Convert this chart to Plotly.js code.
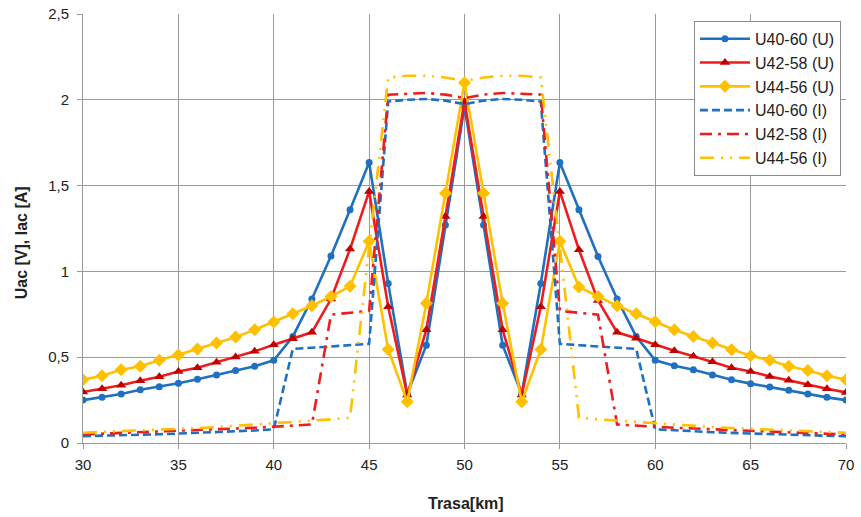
<!DOCTYPE html>
<html>
<head>
<meta charset="utf-8">
<script src="https://cdn.plot.ly/plotly-3.0.1.min.js"></script>
<style>html,body{margin:0;padding:0;background:#fff;}#chart{width:861px;height:517px;}</style>
</head>
<body>
<div id="chart"></div>
<script>
// Trasa [km]
const km = [30,31,32,33,34,35,36,37,38,39,40,41,42,43,44,45,46,47,48,49,50,51,52,53,54,55,56,57,58,59,60,61,62,63,64,65,66,67,68,69,70];

// Napięcia (U)
const u4060U = [0.25,0.266,0.285,0.31,0.328,0.348,0.371,0.396,0.423,0.447,0.482,0.621,0.839,1.09,1.359,1.635,0.93,0.285,0.57,1.27,1.96,1.27,0.57,0.285,0.93,1.635,1.359,1.087,0.839,0.621,0.482,0.45,0.427,0.396,0.369,0.346,0.326,0.307,0.285,0.266,0.25];
const u4258U = [0.297,0.316,0.336,0.363,0.386,0.417,0.439,0.47,0.501,0.534,0.573,0.608,0.645,0.839,1.13,1.466,0.794,0.28,0.66,1.32,1.99,1.32,0.66,0.28,0.794,1.466,1.126,0.831,0.645,0.61,0.573,0.538,0.505,0.474,0.439,0.417,0.388,0.365,0.34,0.316,0.295];
const u4456U = [0.369,0.392,0.427,0.447,0.482,0.513,0.548,0.583,0.617,0.66,0.705,0.753,0.8,0.854,0.913,1.175,0.545,0.24,0.815,1.456,2.1,1.456,0.815,0.24,0.545,1.175,0.909,0.854,0.8,0.753,0.707,0.66,0.621,0.583,0.544,0.509,0.482,0.447,0.423,0.392,0.369];

// Prądy (I)
const u4060I = [0.04,0.042,0.045,0.048,0.051,0.055,0.059,0.063,0.068,0.073,0.08,0.548,0.555,0.562,0.57,0.578,1.99,2.0,2.005,1.995,1.975,1.995,2.005,2.0,1.99,0.578,0.57,0.562,0.555,0.548,0.08,0.073,0.068,0.063,0.059,0.055,0.051,0.048,0.045,0.042,0.04];
const u4258I = [0.05,0.054,0.058,0.062,0.066,0.07,0.074,0.079,0.084,0.089,0.095,0.1,0.108,0.748,0.757,0.77,2.03,2.035,2.04,2.03,2.01,2.03,2.04,2.035,2.03,0.77,0.757,0.748,0.108,0.1,0.095,0.089,0.084,0.079,0.074,0.07,0.066,0.062,0.058,0.054,0.05];
const u4456I = [0.06,0.064,0.068,0.072,0.077,0.082,0.087,0.093,0.1,0.107,0.114,0.122,0.13,0.138,0.147,1.14,2.13,2.14,2.14,2.13,2.11,2.13,2.14,2.14,2.13,1.14,0.147,0.138,0.13,0.122,0.114,0.107,0.1,0.093,0.087,0.082,0.077,0.072,0.068,0.064,0.06];

const names = ['U40-60 (U)','U42-58 (U)','U44-56 (U)','U40-60 (I)','U42-58 (I)','U44-56 (I)'];
const xTitle = 'Trasa[km]';
const yTitle = 'Uac [V], Iac [A]';

const BLUE = '#1f70c1', RED = '#ee1c1c', YEL = '#ffc000';

const traces = [
  {x: km, y: u4060U, name: names[0], mode: 'lines+markers',
   line: {color: BLUE, width: 2.6}, marker: {symbol: 'circle', size: 7, color: BLUE}},
  {x: km, y: u4258U, name: names[1], mode: 'lines+markers',
   line: {color: RED, width: 2.6}, marker: {symbol: 'triangle-up', size: 9, color: '#c00000'}},
  {x: km, y: u4456U, name: names[2], mode: 'lines+markers',
   line: {color: YEL, width: 2.6}, marker: {symbol: 'diamond', size: 10, color: YEL}},
  {x: km, y: u4060I, name: names[3], mode: 'lines',
   line: {color: BLUE, width: 2.6, dash: '8px,4px'}},
  {x: km, y: u4258I, name: names[4], mode: 'lines',
   line: {color: RED, width: 2.6, dash: '12px,6px,3px,6px'}},
  {x: km, y: u4456I, name: names[5], mode: 'lines',
   line: {color: YEL, width: 2.6, dash: '14px,7px,2px,7px,2px,7px'}}
];

const FONT = 'Liberation Sans, Arial, sans-serif';

const layout = {
  width: 861, height: 517,
  margin: {l: 83, r: 15, t: 14, b: 74},
  paper_bgcolor: '#fff', plot_bgcolor: '#fff',
  separators: ', ',
  font: {family: FONT, size: 15, color: '#222'},
  showlegend: true,
  xaxis: {
    range: [30, 70], dtick: 5, tick0: 30,
    showgrid: true, gridcolor: '#9a9a9a', gridwidth: 1,
    zeroline: false, showline: true, linecolor: '#9a9a9a', linewidth: 1,
    ticks: 'outside', ticklen: 5, tickcolor: '#9a9a9a',
    ticklabelstandoff: 3,
    tickfont: {family: FONT, size: 15, color: '#222'},
    mirror: false
  },
  yaxis: {
    range: [0, 2.5], dtick: 0.5, tick0: 0,
    showgrid: true, gridcolor: '#9a9a9a', gridwidth: 1,
    zeroline: false, showline: true, linecolor: '#9a9a9a', linewidth: 1,
    ticks: 'outside', ticklen: 5, tickcolor: '#9a9a9a',
    ticklabelstandoff: 5,
    tickfont: {family: FONT, size: 15, color: '#222'},
    tickformat: ',.1~f'
  },
  legend: {
    x: 0.9934, xanchor: 'right', y: 0.984, yanchor: 'top',
    bgcolor: '#fff', bordercolor: '#8a8a8a', borderwidth: 1,
    font: {family: FONT, size: 16, color: '#222'},
    itemwidth: 50, tracegroupgap: 0
  },
  annotations: [
    {text: '<b>' + xTitle + '</b>', xref: 'paper', yref: 'paper', x: 0.502, y: -0.14,
     xanchor: 'center', yanchor: 'middle', showarrow: false,
     font: {family: FONT, size: 16, color: '#222'}},
    {text: '<b>' + yTitle + '</b>', xref: 'paper', yref: 'paper', x: -0.081, y: 0.466,
     xanchor: 'center', yanchor: 'middle', showarrow: false, textangle: -90,
     font: {family: FONT, size: 16, color: '#222'}}
  ]
};

Plotly.newPlot('chart', traces, layout, {displayModeBar: false, staticPlot: true});
</script>
</body>
</html>
